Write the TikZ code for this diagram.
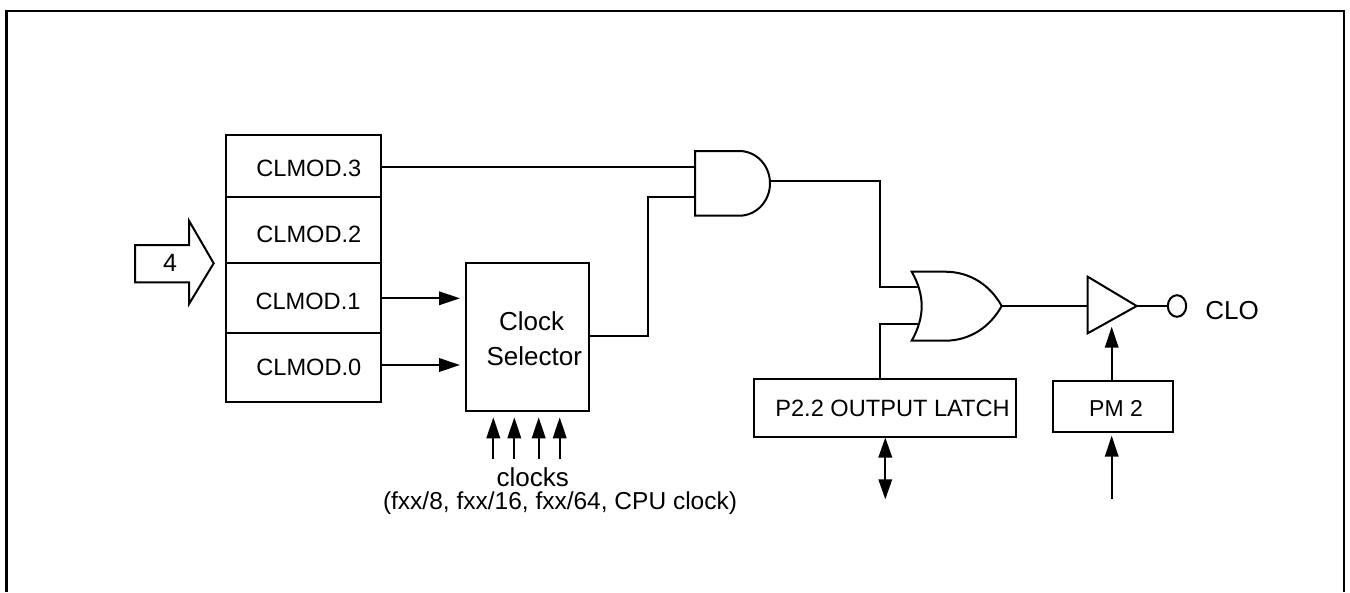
\documentclass[tikz,border=0pt]{standalone}
\usepackage{fontspec}
\setmainfont{Liberation Sans}
\usetikzlibrary{arrows.meta}
\tikzset{
  x=1pt,y=-1pt,
  wire/.style={line width=2pt,line cap=butt,line join=miter},
  sig/.style={wire,-{Triangle[length=21pt,width=13.5pt]}},
  box/.style={draw,line width=2pt,rectangle,inner sep=0pt,minimum width=#1},
  gate/.style={draw,line width=2pt,line join=miter},
  lab/.style={inner sep=0pt,font=\fontsize{23.6pt}{26pt}\selectfont},
  labb/.style={inner sep=0pt,font=\fontsize{26pt}{28pt}\selectfont},
}
\begin{document}
\begin{tikzpicture}
\useasboundingbox (0,0) rectangle (1350,592);
% frame (open at the bottom)
\draw[line width=2.7pt,line join=miter] (6.5,592) -- (6.5,11) -- (1344,11) -- (1344,592);
% register
\node[box=155pt,minimum height=61.7pt] (r3) at (303.8,165.9) {};
\node[box=155pt,minimum height=66.6pt] (r2) at (303.8,230) {};
\node[box=155pt,minimum height=70pt] (r1) at (303.8,298.3) {};
\node[box=155pt,minimum height=68.7pt] (r0) at (303.8,367.7) {};
\node[lab] (t3) at (308.8,168) {CLMOD.3};
\node[lab] (t2) at (308.8,234) {CLMOD.2};
\node[lab] (t1) at (308,301.7) {CLMOD.1};
\node[lab] (t0) at (308.8,367.3) {CLMOD.0};
% hollow arrow
\draw[gate] (135,245) -- (189,245) -- (189,220.7) -- (213.7,263.3) -- (189,304) -- (189,282.3) -- (135,282.3) -- cycle;
\node[labb,font=\fontsize{25pt}{28pt}\selectfont] (four) at (170,263) {4};
% clock selector
\node[box=123.3pt,minimum height=147.4pt] (sel) at (527.7,337) {};
\node[labb] (tc) at (531.7,321.7) {Clock};
\node[labb] (ts) at (534.3,356.7) {Selector};
% AND gate
\draw[gate] (695,151) -- (739.3,151) arc[start angle=90,end angle=-90,x radius=30.7pt,y radius=32.35pt] -- (695,215.7) -- cycle;
\coordinate (andA) at (695,167.3);
\coordinate (andB) at (695,196.7);
\coordinate (andO) at (770,181);
% OR gate
\draw[gate] (911.7,271.7) -- (945,271.7) .. controls (970,271.7) and (990,285) .. (1001.7,306) .. controls (990,327) and (970,340.7) .. (945,340.7) -- (911.7,340.7) .. controls (925,317) and (925,295) .. (911.7,271.7) -- cycle;
\coordinate (orA) at (918.5,287.3);
\coordinate (orB) at (918.5,324.3);
\coordinate (orO) at (1001.7,306);
% buffer
\draw[gate] (1087.7,276.7) -- (1136.7,306) -- (1087.7,333.3) -- cycle;
\coordinate (bufI) at (1087.7,306);
\coordinate (bufO) at (1136.7,306);
\coordinate (bufE) at (1111.7,326.7);
% output circle
\draw[line width=2pt] (1177,306) ellipse [x radius=9.2pt,y radius=10.8pt];
\coordinate (pin) at (1167.8,306);
\node[labb] (clo) at (1232,310.7) {CLO};
% lower boxes
\node[box=262pt,minimum height=57.7pt] (latch) at (885,407.8) {};
\node[lab] (tl) at (892.5,408.7) {P2.2 OUTPUT LATCH};
\node[box=120pt,minimum height=50.7pt] (pm) at (1113.3,406.3) {};
\node[lab,font=\fontsize{23pt}{26pt}\selectfont] (tp) at (1116,408) {PM 2};
% free ends
\coordinate (c1) at (493.3,459.3);
\coordinate (c2) at (514.3,459.3);
\coordinate (c3) at (538.7,459.3);
\coordinate (c4) at (559.7,459.3);
\coordinate (s1) at (493.3,417.3);
\coordinate (s2) at (514.3,417.3);
\coordinate (s3) at (538.7,417.3);
\coordinate (s4) at (559.7,417.3);
\coordinate (pmin) at (1111.7,499);
\coordinate (pmtip) at (1111.7,435.7);
\coordinate (io1) at (885.3,437.5);
\coordinate (io2) at (885.3,499.3);
\node[labb] (clk) at (532.7,477) {clocks};
\node[lab,font=\fontsize{24.5pt}{26pt}\selectfont] (clk2) at (560,503) {(fxx/8, fxx/16, fxx/64, CPU clock)};
% connectors
\draw[wire] (r3.east |- andA) -- (andA);
\draw[sig] (r1.east |- 0,298.3) -- (460,298.3);
\draw[sig] (r0.east |- 0,365) -- (460,365);
\draw[wire] (sel.east |- 0,335.7) -- (647.7,335.7) -- (647.7,196.7) -- (andB);
\draw[wire] (andO) -- (880,181) -- (880,287.3) -- (orA);
\draw[wire] (880,379) -- (880,324.3) -- (orB);
\draw[wire] (orO) -- (bufI);
\draw[wire] (bufO) -- (pin);
\draw[sig] (c1) -- (s1);
\draw[sig] (c2) -- (s2);
\draw[sig] (c3) -- (s3);
\draw[sig] (c4) -- (s4);
\draw[sig] (pm.north -| bufE) -- (bufE);
\draw[sig] (pmin) -- (pmtip);
\draw[wire,{Triangle[length=20pt,width=13.5pt]}-{Triangle[length=20pt,width=13.5pt]}] (io1) -- (io2);
\end{tikzpicture}
\end{document}
